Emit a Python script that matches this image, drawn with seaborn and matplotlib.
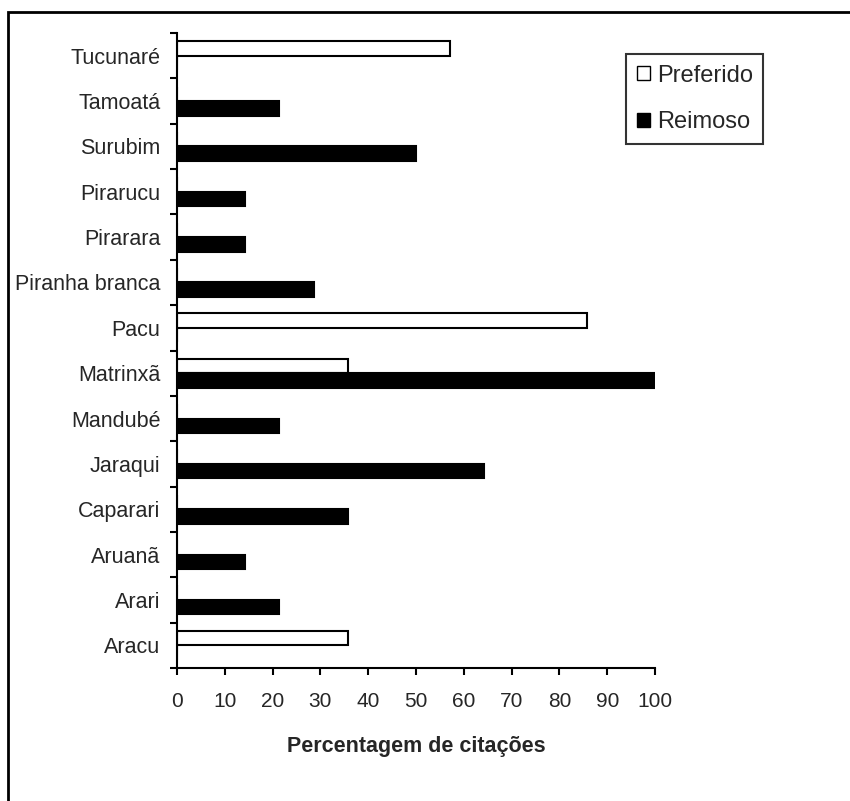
import matplotlib
matplotlib.use("Agg")
import matplotlib.pyplot as plt
import matplotlib.patches as mpatches
import numpy as np
import pandas as pd
import seaborn as sns

species = ["Tucunaré", "Tamoatá", "Surubim", "Pirarucu", "Pirarara", "Piranha branca",
           "Pacu", "Matrinxã", "Mandubé", "Jaraqui", "Caparari", "Aruanã", "Arari", "Aracu"]
preferido = [57.1, 0, 0, 0, 0, 0, 85.7, 35.7, 0, 0, 0, 0, 0, 35.7]
reimoso = [0, 21.4, 50.0, 14.3, 14.3, 28.6, 0, 100.0, 21.4, 64.3, 35.7, 14.3, 21.4, 0]
xticks = list(range(0, 101, 10))

sns.set_theme(style="white")
plt.rcParams["font.family"] = ["Liberation Sans", "DejaVu Sans"]

df = pd.DataFrame({
    "Espécie": species * 2,
    "Percentagem": preferido + reimoso,
    "Tipo": ["Preferido"] * len(species) + ["Reimoso"] * len(species),
})

fig = plt.figure(figsize=(8.5, 8.01), dpi=100)
ax = fig.add_axes([177/850, 1 - 668/801, (655 - 177)/850, (668 - 33)/801])

sns.barplot(data=df, y="Espécie", x="Percentagem", hue="Tipo", order=species,
            hue_order=["Preferido", "Reimoso"], orient="h", width=0.64,
            palette={"Preferido": "white", "Reimoso": "black"},
            edgecolor="black", linewidth=1.5, saturation=1, ax=ax, legend=False)

ax.set_xlim(0, 100)
ax.set_ylim(len(species) - 0.5, -0.5)
ax.set_xticks(xticks)
ax.set_xticklabels([str(t) for t in xticks], fontsize=15)
ax.set_yticks(range(len(species)))
ax.set_yticklabels(species, fontsize=15.5)
ax.set_yticks(np.arange(-0.5, len(species), 1.0), minor=True)
ax.tick_params(axis="y", which="major", length=0, pad=12)
ax.tick_params(axis="y", which="minor", length=5, width=1.5, color="black", direction="out", left=True)
ax.tick_params(axis="x", which="major", length=5, width=1.5, color="black", direction="out", bottom=True, pad=12)
for s in ["top", "right"]:
    ax.spines[s].set_visible(False)
for s in ["left", "bottom"]:
    ax.spines[s].set_color("black")
    ax.spines[s].set_linewidth(1.5)
ax.set_ylabel("")
ax.set_xlabel("Percentagem de citações", fontsize=15.5, fontweight="bold", labelpad=18)

handles = [mpatches.Patch(facecolor="white", edgecolor="black", linewidth=1, label="Preferido"),
           mpatches.Patch(facecolor="black", edgecolor="black", linewidth=1, label="Reimoso")]
leg = fig.legend(handles=handles, loc="upper left", bbox_to_anchor=(626/850, 1 - 54/801),
                 fontsize=17, frameon=True, fancybox=False, handlelength=0.55, handleheight=0.55,
                 handletextpad=0.3, borderpad=0.45, labelspacing=1.05, borderaxespad=0)
leg.get_frame().set_edgecolor("black")
leg.get_frame().set_linewidth(1.5)

fig.patches.append(mpatches.Rectangle((8/850, -0.1), 1.2, 1 - 12/801 + 0.1, transform=fig.transFigure,
                                      fill=False, edgecolor="black", linewidth=2, clip_on=False))

fig.savefig("out.png", dpi=100)
